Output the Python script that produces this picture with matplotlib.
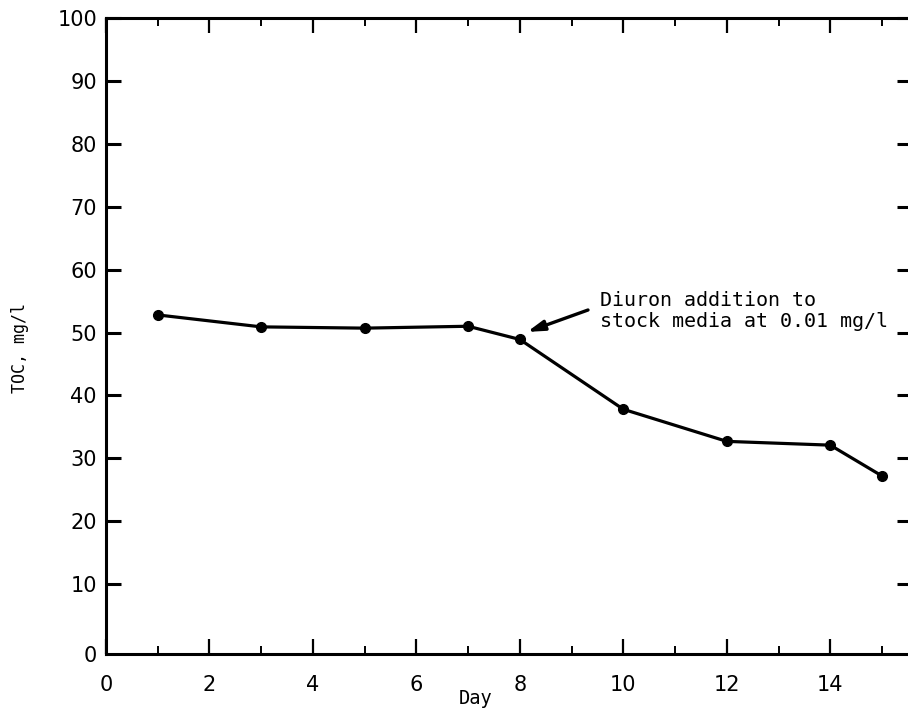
import matplotlib
matplotlib.use("Agg")
import matplotlib.pyplot as plt
from matplotlib.ticker import MultipleLocator
from matplotlib.transforms import ScaledTranslation

# TOC measurements over the culture period
days = [1, 3, 5, 7, 8, 10, 12, 14, 15]
toc = [52.8, 50.9, 50.7, 51.0, 48.9, 37.8, 32.7, 32.1, 27.2]

x_ticks = [0, 2, 4, 6, 8, 10, 12, 14]
y_ticks = [0, 10, 20, 30, 40, 50, 60, 70, 80, 90, 100]

W, H, DPI = 908, 713, 100
fig = plt.figure(figsize=(W / DPI, H / DPI), dpi=DPI)
left, right, top, bottom = 106, 912, 18, 654
ax = fig.add_axes([left / W, 1 - bottom / H, (right - left) / W, (bottom - top) / H])

ax.plot(days, toc, color="black", lw=2.3, marker="o", ms=7, zorder=3,
        solid_joinstyle="round")

ax.set_xlim(0, 15.58)
ax.set_ylim(-1.1, 100)

for s in ax.spines.values():
    s.set_linewidth(2.2)
    s.set_color("black")

tick_font = dict(family="DejaVu Sans", size=15)
ax.set_xticks(x_ticks)
ax.set_xticklabels([str(v) for v in x_ticks], **tick_font)
ax.xaxis.set_minor_locator(MultipleLocator(1))
ax.set_yticks(y_ticks)
ax.set_yticklabels([str(v) for v in y_ticks], **tick_font)

ax.tick_params(axis="x", which="major", direction="in", length=11, width=1.6,
               top=True, bottom=True, pad=15)
ax.tick_params(axis="x", which="minor", direction="in", length=5.5, width=1.4,
               top=True, bottom=True)
ax.tick_params(axis="y", which="major", direction="in", length=11, width=2.2,
               left=True, right=True, pad=6.5)
ax.tick_params(axis="y", which="minor", left=False, right=False)

# the zero on the value axis sits on the baseline without a tick mark
zero_tick = ax.yaxis.get_major_ticks()[0]
zero_tick.tick1line.set_visible(False)
zero_tick.tick2line.set_visible(False)
zero_tick.label1.set_transform(zero_tick.label1.get_transform()
                               + ScaledTranslation(0, -7 / DPI, fig.dpi_scale_trans))

ax.text(476 / W, 1 - 698 / H, "Day", transform=fig.transFigure,
        family="DejaVu Sans Mono", fontsize=13.5, ha="center", va="center")
ax.text(20 / W, 1 - 348 / H, "TOC, mg/l", transform=fig.transFigure,
        family="DejaVu Sans Mono", fontsize=12, ha="center", va="center",
        rotation=90)

ax.text(600 / W, 1 - 311 / H, "Diuron addition to\nstock media at 0.01 mg/l",
        transform=fig.transFigure, family="DejaVu Sans Mono", fontsize=14.4,
        ha="left", va="center", linespacing=1.15)
ax.annotate("", xy=(8.14, 50.1), xytext=(588 / W, 1 - 310 / H),
            textcoords="figure fraction",
            arrowprops=dict(arrowstyle="-|>,head_length=1.0,head_width=0.3",
                            color="black", lw=2.4, shrinkA=0, shrinkB=0))

fig.savefig("out.png", dpi=DPI)
